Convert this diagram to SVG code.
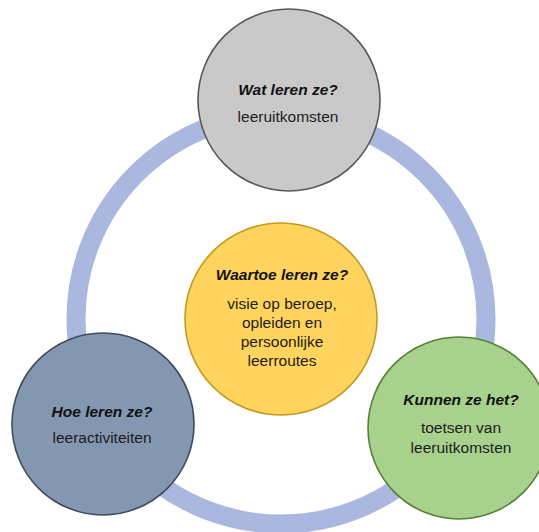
<svg xmlns="http://www.w3.org/2000/svg" width="539" height="532" viewBox="0 0 539 532">
<style>
.ring{fill:none;stroke:#aab8df;stroke-width:19}
.node{stroke-width:1.6}
text{font-family:"Liberation Sans",Arial,sans-serif;font-size:15.5px;fill:#1c1c1c;text-anchor:middle}
.t{font-weight:bold;font-style:italic;fill:#111}
</style>
<rect width="539" height="532" fill="#ffffff"/>
<g id="connectors">
<circle class="ring" cx="281" cy="319" r="205"/>
</g>
<g id="node-wat">
<circle class="node" cx="289" cy="100" r="91" fill="#c9c9c9" stroke="#595959"/>
<text class="t" x="288" y="95">Wat leren ze?</text>
<text x="288" y="122">leeruitkomsten</text>
</g>
<g id="node-waartoe">
<circle class="node" cx="281" cy="319" r="96" fill="#ffd45e" stroke="#c49a1e"/>
<text class="t" x="282" y="280">Waartoe leren ze?</text>
<text x="282" y="309">visie op beroep,</text>
<text x="282" y="328">opleiden en</text>
<text x="282" y="347">persoonlijke</text>
<text x="282" y="366">leerroutes</text>
</g>
<g id="node-hoe">
<circle class="node" cx="103" cy="424" r="91" fill="#8497b0" stroke="#3e4b5c"/>
<text class="t" x="102" y="417">Hoe leren ze?</text>
<text x="102" y="443">leeractiviteiten</text>
</g>
<g id="node-kunnen">
<circle class="node" cx="459" cy="428" r="91" fill="#a9d18e" stroke="#538135"/>
<text class="t" x="461" y="405">Kunnen ze het?</text>
<text x="461" y="433">toetsen van</text>
<text x="461" y="453">leeruitkomsten</text>
</g>
</svg>
